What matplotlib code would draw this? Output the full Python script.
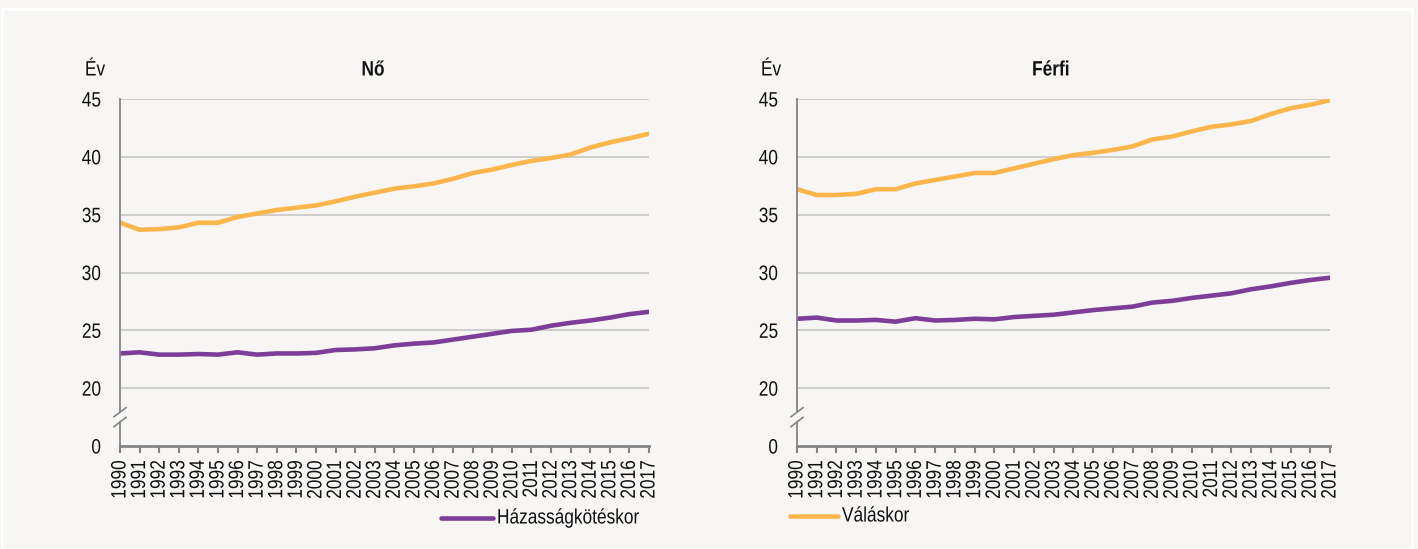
import matplotlib
matplotlib.use("Agg")
import matplotlib.pyplot as plt
from matplotlib.lines import Line2D
from matplotlib.patches import Rectangle
import matplotlib.transforms as mtransforms
from matplotlib.patheffects import AbstractPathEffect

plt.rcParams['font.family'] = ['Liberation Sans', 'DejaVu Sans']

years = list(range(1990, 2018))
year_labels = [str(y) for y in years]

no_hazassag = [23.0, 23.1, 22.9, 22.9, 22.95, 22.9, 23.1, 22.9, 23.0, 23.0,
               23.05, 23.3, 23.35, 23.45, 23.7, 23.85, 23.95, 24.2, 24.45, 24.7,
               24.95, 25.05, 25.4, 25.65, 25.85, 26.1, 26.4, 26.6]
no_valas = [34.3, 33.7, 33.75, 33.9, 34.3, 34.3, 34.8, 35.1, 35.4, 35.6,
            35.8, 36.15, 36.55, 36.9, 37.25, 37.45, 37.7, 38.1, 38.6, 38.9,
            39.3, 39.65, 39.9, 40.2, 40.8, 41.25, 41.6, 42.0]
ferfi_hazassag = [26.0, 26.1, 25.85, 25.85, 25.9, 25.75, 26.05, 25.85, 25.9, 26.0,
                  25.95, 26.15, 26.25, 26.35, 26.55, 26.75, 26.9, 27.05, 27.4, 27.55,
                  27.8, 28.0, 28.2, 28.55, 28.8, 29.1, 29.35, 29.55]
ferfi_valas = [37.2, 36.7, 36.7, 36.8, 37.2, 37.2, 37.7, 38.0, 38.3, 38.6,
               38.6, 39.0, 39.4, 39.8, 40.15, 40.35, 40.6, 40.9, 41.5, 41.75,
               42.2, 42.6, 42.8, 43.1, 43.7, 44.2, 44.5, 44.9]

# axis: value 15 on the scale is displayed as "0" (broken axis)
ytick_pos = [15, 20, 25, 30, 35, 40, 45]
ytick_labels = ["0", "20", "25", "30", "35", "40", "45"]

titles = ["Nő", "Férfi"]
series_names = ["Házasságkötéskor", "Váláskor"]

PURPLE = "#7e3d99"
ORANGE = "#fdb64c"
BG = "#f7f6f4"
GRID = "#c6c6c6"
SPINE = "#858585"
TXT = "#111111"
FS = 15
NARROW = 0.83


class Narrow(AbstractPathEffect):
    """Compress text horizontally (in its own direction) to imitate a narrow font."""

    def __init__(self, factor=NARROW, anchor="left"):
        super().__init__()
        self.factor = factor
        self.anchor = anchor

    def draw_path(self, renderer, gc, tpath, affine, rgbFace=None):
        ext = tpath.get_extents()
        if self.anchor == "left":
            a = 0.0
        elif self.anchor == "right":
            a = ext.x1
        else:
            a = (ext.x0 + ext.x1) / 2
        t = mtransforms.Affine2D().translate(-a, 0).scale(self.factor, 1).translate(a, 0)
        renderer.draw_path(gc, tpath, t + affine, rgbFace)


W, H = 1418, 549
fig = plt.figure(figsize=(W / 100, H / 100), dpi=100, facecolor=BG)

# white frame
fig.patches.append(Rectangle((2 / W, 0), (1412 - 2) / W, (549 - 9) / H, transform=fig.transFigure,
                             fill=False, edgecolor="white", linewidth=2))

axes_px = [(120, 649), (797, 1330)]
top_px, bot_px = 99, 446
data = [(no_hazassag, no_valas), (ferfi_hazassag, ferfi_valas)]
title_x = [373, 1051]
ev_x = [95, 771]

for i, (x0, x1) in enumerate(axes_px):
    ax = fig.add_axes([x0 / W, 1 - bot_px / H, (x1 - x0) / W, (bot_px - top_px) / H])
    ax.set_facecolor(BG)
    haz, val = data[i]
    ax.plot(years, val, color=ORANGE, lw=3.3, solid_capstyle="round", zorder=3)
    ax.plot(years, haz, color=PURPLE, lw=3.3, solid_capstyle="round", zorder=3)
    ax.set_xlim(1990, 2017)
    ax.set_ylim(15, 45)
    ax.set_yticks(ytick_pos)
    ax.set_yticklabels(ytick_labels)
    ax.set_xticks(years)
    ax.set_xticklabels(year_labels, rotation=90)
    for y in ytick_pos[1:]:
        ax.axhline(y, color=GRID, lw=1.2, zorder=1)
    for s in ["top", "right", "left"]:
        ax.spines[s].set_visible(False)
    ax.spines["bottom"].set_color(SPINE)
    ax.spines["bottom"].set_linewidth(2)
    ax.tick_params(axis="y", length=0, pad=13.5, labelsize=FS, colors=TXT)
    ax.tick_params(axis="x", length=5, width=1.5, color=SPINE, pad=5, labelsize=FS,
                   labelcolor=TXT)
    for lab in ax.get_yticklabels():
        lab.set_path_effects([Narrow(anchor="right")])
    for lab in ax.get_xticklabels():
        lab.set_path_effects([Narrow(anchor="right")])
    # broken left spine
    tr = mtransforms.blended_transform_factory(ax.transAxes, ax.transData)
    ax.plot([0, 0], [15, 17.05], transform=tr, color=SPINE, lw=1.3, clip_on=False, zorder=4)
    ax.plot([0, 0], [17.9, 45], transform=tr, color=SPINE, lw=1.3, clip_on=False, zorder=4)
    dx = 6 / (x1 - x0)
    ax.plot([-dx, dx], [17.53, 18.31], transform=tr, color=SPINE, lw=1.2, clip_on=False, zorder=4)
    ax.plot([-dx, dx], [16.67, 17.48], transform=tr, color=SPINE, lw=1.2, clip_on=False, zorder=4)

    fig.text(title_x[i] / W, 1 - 70 / H, titles[i], ha="center", va="center",
             fontsize=FS, fontweight="bold", color=TXT,
             path_effects=[Narrow(anchor="center")])
    fig.text(ev_x[i] / W, 1 - 70 / H, "Év", ha="center", va="center",
             fontsize=FS, color=TXT, path_effects=[Narrow(anchor="center")])

# legends
fig.lines.append(Line2D([441 / W, 493 / W], [1 - 518 / H] * 2, transform=fig.transFigure,
                        color=PURPLE, lw=3.3, solid_capstyle="round"))
fig.text(497 / W, 1 - 518 / H, series_names[0], ha="left", va="center", fontsize=FS,
         color=TXT, path_effects=[Narrow(anchor="left")])
fig.lines.append(Line2D([790 / W, 838 / W], [1 - 516 / H] * 2, transform=fig.transFigure,
                        color=ORANGE, lw=3.3, solid_capstyle="round"))
fig.text(842 / W, 1 - 516 / H, series_names[1], ha="left", va="center", fontsize=FS,
         color=TXT, path_effects=[Narrow(anchor="left")])

fig.savefig("out.png", dpi=100, facecolor=BG)
